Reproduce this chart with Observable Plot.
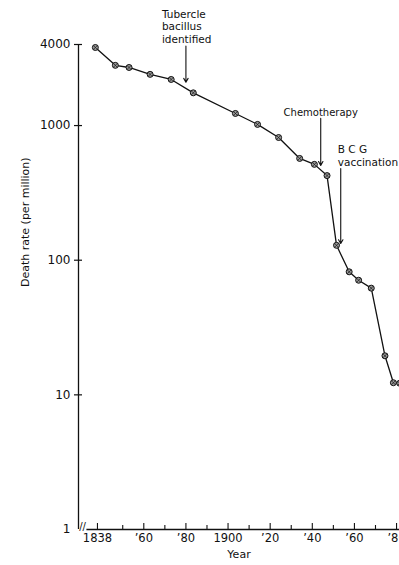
<!DOCTYPE html>
<html><head><meta charset="utf-8">
<script src="https://cdn.jsdelivr.net/npm/d3@7"></script>
<script src="https://cdn.jsdelivr.net/npm/@observablehq/plot@0.6"></script>
<style>html,body{margin:0;padding:0;background:#fff;}</style>
</head><body><div id="chart"></div>
<script>
const years = [1837, 1846.5, 1853, 1863, 1873, 1883.5, 1903.5, 1914, 1924, 1934, 1941, 1947, 1951.5, 1957.5, 1962, 1968, 1974.5, 1978.5, 1981.5];
const rates = [3800, 2800, 2700, 2400, 2200, 1750, 1230, 1020, 815, 570, 515, 425, 129, 82, 71, 62, 19.5, 12.3, 12.2];
const yTicks = [1, 10, 100, 1000, 4000];
const xMajor = [1838, 1860, 1880, 1900, 1920, 1940, 1960, 1980];
const xMinor = [1850, 1870, 1890, 1910, 1930, 1950, 1970];
const eventLabels = ["Tubercle\nbacillus\nidentified", "Chemotherapy", "B C G\nvaccination"];
const eventYears = [1880, 1944, 1953.5];
const eventFrom = [3900, 1130, 480];
const eventTo = [2100, 506, 133];

const data = years.map((year, i) => ({year, rate: rates[i]}));
const events = eventLabels.map((label, i) => ({label, year: eventYears[i], from: eventFrom[i], to: eventTo[i]}));

const W = 399, H = 565, mt = 44, mb = 36, ml = 78, mr = 0;
const fw = W - ml - mr, fh = H - mt - mb;
const font = "'DejaVu Sans', sans-serif";
const ink = "#111";
const xFmt = d => (d === 1838 || d === 1900) ? String(d) : "\u2019" + String(d).slice(2);

const chart = Plot.plot({
  width: W, height: H,
  marginTop: mt, marginBottom: mb, marginLeft: ml, marginRight: mr,
  style: {fontFamily: font, background: "#fff", color: ink, overflow: "hidden"},
  x: {type: "linear", domain: [1829, 1981.4]},
  y: {type: "log", domain: [1, 4000], axis: null},
  marks: [
    // axis lines
    Plot.ruleX([1829], {stroke: ink, strokeWidth: 1.3}),
    Plot.ruleY([1], {x1: 1833, x2: 1981.4, stroke: ink, strokeWidth: 1.3}),
    // axis break
    Plot.text(["//"], {x: 1829, y: 1, text: d => d, dx: 4, dy: -3, fontSize: 10, fill: ink}),
    // y ticks
    Plot.ruleY(yTicks.filter(d => d > 1), {insetLeft: -4, insetRight: fw - 4, stroke: ink, strokeWidth: 1.2}),
    // x ticks
    Plot.ruleX(xMajor, {insetTop: fh - 6, stroke: ink, strokeWidth: 1.1}),
    Plot.ruleX(xMinor, {insetTop: fh - 4, stroke: ink, strokeWidth: 1.1}),
    // y tick labels
    Plot.text(yTicks, {frameAnchor: "left", y: d => d, text: d => String(d), textAnchor: "end", dx: -8, fontSize: 12, fill: ink}),
    Plot.axisX({ticks: xMajor, tickSize: 0, tickPadding: 4, tickFormat: xFmt, fontSize: 11.5, label: null}),
    Plot.text(["Death rate (per million)"], {frameAnchor: "left", text: d => d, dx: -53, rotate: -90, fontSize: 11, fill: ink}),
    Plot.text(["Year"], {frameAnchor: "bottom", text: d => d, dy: 28, fontSize: 11, fill: ink}),
    // series
    Plot.line(data, {x: "year", y: "rate", stroke: ink, strokeWidth: 1.3}),
    Plot.dot(data, {x: "year", y: "rate", r: 3, fill: "#999", stroke: ink, strokeWidth: 1}),
    Plot.dot(data, {x: "year", y: "rate", r: 2, symbol: "times", stroke: ink, strokeWidth: 0.7}),
    // events
    Plot.arrow(events, {x: "year", y1: "from", y2: "to", headLength: 6, stroke: ink, strokeWidth: 1.1}),
    Plot.text([events[0]], {x: "year", y: "from", text: "label", textAnchor: "start", lineAnchor: "bottom", dx: -24, dy: -3, fontSize: 10.5, lineHeight: 1.2, fill: ink}),
    Plot.text([events[1]], {x: "year", y: "from", text: "label", textAnchor: "middle", lineAnchor: "bottom", dx: 0, dy: -2, fontSize: 10, fill: ink}),
    Plot.text([events[2]], {x: "year", y: "from", text: "label", textAnchor: "start", lineAnchor: "bottom", dx: -3, dy: -2, fontSize: 10.5, lineHeight: 1.25, fill: ink})
  ]
});
document.getElementById("chart").appendChild(chart);
</script>
</body></html>
